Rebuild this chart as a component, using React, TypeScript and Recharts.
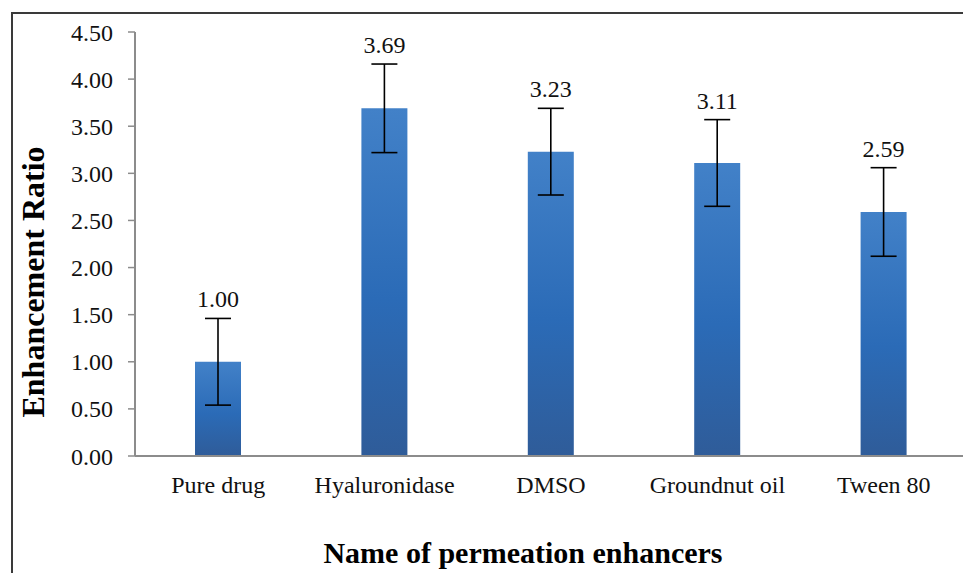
import { Bar, BarChart, ErrorBar, LabelList, XAxis, YAxis } from 'recharts'

const categories = ['Pure drug', 'Hyaluronidase', 'DMSO', 'Groundnut oil', 'Tween 80']
const ratios = [1.0, 3.69, 3.23, 3.11, 2.59]
const errors = [0.46, 0.47, 0.46, 0.46, 0.47]
const yTicks = [0, 0.5, 1, 1.5, 2, 2.5, 3, 3.5, 4, 4.5]

const data = categories.map((name, i) => ({ name, ratio: ratios[i], err: errors[i] }))

const serif = "'Liberation Serif', 'Times New Roman', serif"
const axisGray = '#8c8c8c'
const tickStyle = { fontFamily: serif, fontSize: 24, fill: '#111', style: { fontFamily: serif } }

function ValueLabel(props: any) {
  const { x, y, width, height, value, index } = props
  const i = typeof index === 'number' ? index : ratios.indexOf(Number(value))
  // pixel per unit from the bar itself, so the label sits over the error cap
  const top = Number(y) - (errors[i] * Number(height)) / Number(value)
  return (
    <text
      x={Number(x) + Number(width) / 2}
      y={top - 11}
      textAnchor="middle"
      fontSize={24}
      fill="#111"
      style={{ fontFamily: serif }}
    >
      {Number(value).toFixed(2)}
    </text>
  )
}

export default function App() {
  return (
    <div
      style={{
        position: 'absolute',
        left: 0,
        top: 0,
        width: 963,
        height: 573,
        overflow: 'hidden',
        background: '#fff',
        fontFamily: serif,
      }}
    >
      <div
        style={{
          position: 'absolute',
          left: 11,
          top: 12,
          width: 1000,
          height: 600,
          borderLeft: '2px solid #3a3a3a',
          borderTop: '2px solid #3a3a3a',
        }}
      />
      <div style={{ position: 'absolute', left: 0, top: 0 }}>
        <BarChart
          width={980}
          height={573}
          data={data}
          margin={{ top: 32, right: 13, left: 65, bottom: 0 }}
          barSize={46}
          style={{ fontFamily: serif }}
        >
          <defs>
            <linearGradient id="barFill" x1="0" y1="0" x2="0" y2="1">
              <stop offset="0%" stopColor="#4281c8" />
              <stop offset="55%" stopColor="#2b6bb7" />
              <stop offset="100%" stopColor="#2f5c99" />
            </linearGradient>
          </defs>
          <XAxis
            dataKey="name"
            height={117}
            tickLine={false}
            tickSize={0}
            tickMargin={20}
            axisLine={{ stroke: axisGray, strokeWidth: 2 }}
            tick={tickStyle}
            interval={0}
          />
          <YAxis
            type="number"
            domain={[0, 4.5]}
            ticks={yTicks}
            width={70}
            tickSize={7}
            tickMargin={15}
            axisLine={{ stroke: axisGray, strokeWidth: 2 }}
            tickLine={{ stroke: axisGray, strokeWidth: 1.5 }}
            tickFormatter={(v) => Number(v).toFixed(2)}
            tick={tickStyle}
          />
          <Bar dataKey="ratio" fill="url(#barFill)" isAnimationActive={false}>
            <ErrorBar dataKey="err" width={13} stroke="#000" strokeWidth={1.6} />
            <LabelList dataKey="ratio" content={ValueLabel} />
          </Bar>
        </BarChart>
      </div>
      <div
        style={{
          position: 'absolute',
          left: 33,
          top: 282,
          transform: 'translate(-50%, -50%) rotate(-90deg)',
          whiteSpace: 'nowrap',
          fontWeight: 'bold',
          fontSize: 32,
          lineHeight: 1,
          color: '#000',
        }}
      >
        Enhancement Ratio
      </div>
      <div
        style={{
          position: 'absolute',
          left: 523,
          top: 538,
          transform: 'translateX(-50%)',
          whiteSpace: 'nowrap',
          fontWeight: 'bold',
          fontSize: 30,
          lineHeight: 1,
          color: '#000',
        }}
      >
        Name of permeation enhancers
      </div>
    </div>
  )
}
